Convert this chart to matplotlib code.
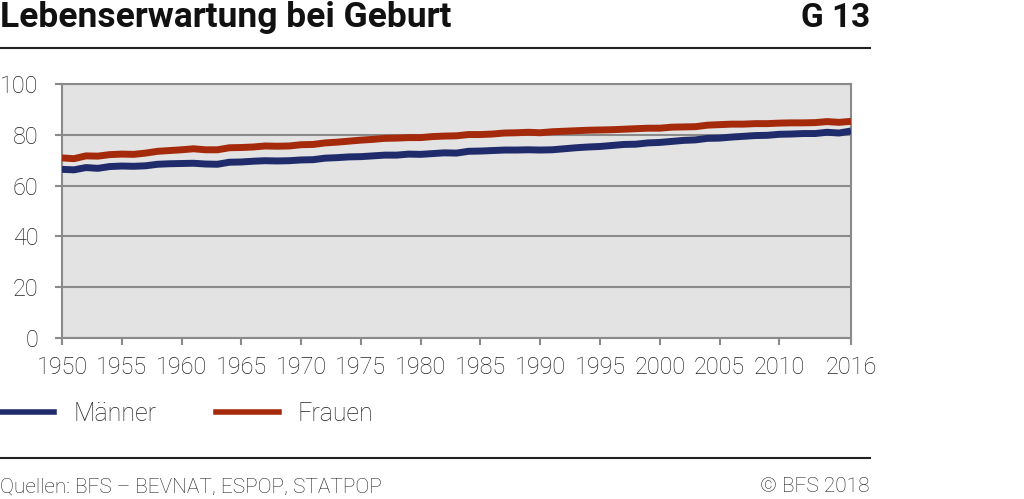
import numpy as np
import matplotlib
matplotlib.use("Agg")
import matplotlib.pyplot as plt
from matplotlib.lines import Line2D

plt.rcParams['font.family'] = ['Roboto', 'DejaVu Sans']

# data
years = list(range(1950, 2017))
maenner = [66.4, 66.2, 67.1, 66.8, 67.5, 67.7, 67.6, 67.8, 68.4, 68.6,
           68.7, 68.8, 68.5, 68.4, 69.2, 69.3, 69.6, 69.8, 69.7, 69.8,
           70.1, 70.2, 70.8, 71.0, 71.3, 71.4, 71.7, 72.0, 72.0, 72.4,
           72.3, 72.6, 72.9, 72.8, 73.5, 73.6, 73.8, 74.0, 74.0, 74.1,
           74.0, 74.1, 74.5, 74.9, 75.2, 75.4, 75.8, 76.2, 76.3, 76.8,
           77.0, 77.4, 77.8, 78.0, 78.6, 78.7, 79.1, 79.4, 79.7, 79.8,
           80.2, 80.3, 80.5, 80.5, 81.0, 80.7, 81.5]
frauen = [70.9, 70.6, 71.7, 71.6, 72.2, 72.4, 72.3, 72.8, 73.5, 73.8,
          74.1, 74.5, 74.1, 74.1, 74.9, 75.0, 75.2, 75.6, 75.5, 75.6,
          76.1, 76.2, 76.8, 77.1, 77.5, 77.9, 78.2, 78.6, 78.7, 78.9,
          78.9, 79.3, 79.5, 79.6, 80.1, 80.1, 80.3, 80.7, 80.8, 81.0,
          80.8, 81.2, 81.4, 81.6, 81.8, 81.9, 82.0, 82.2, 82.4, 82.6,
          82.6, 83.0, 83.1, 83.2, 83.8, 84.0, 84.2, 84.2, 84.4, 84.4,
          84.6, 84.7, 84.7, 84.8, 85.2, 84.9, 85.3]
x_ticks = [1950, 1955, 1960, 1965, 1970, 1975, 1980, 1985, 1990, 1995,
           2000, 2005, 2010, 2016]
y_ticks = [0, 20, 40, 60, 80, 100]

col_m = '#1f2b6b'
col_f = '#a52a0c'
grid_col = '#8a8a8a'

fig = plt.figure(figsize=(10.24, 4.99), dpi=100)
ax = fig.add_axes([62/1024, 1 - 338/499, (851 - 62)/1024, (338 - 84)/499])
ax.set_facecolor('#e3e3e3')

ax.plot(years, maenner, color=col_m, lw=5, solid_capstyle='butt', zorder=3)
ax.plot(years, frauen, color=col_f, lw=5, solid_capstyle='butt', zorder=3)

ax.set_xlim(1950, 2016)
ax.set_ylim(0, 100)
ax.set_xticks(x_ticks)
ax.set_yticks(y_ticks)
ax.grid(axis='y', color=grid_col, lw=1.5, zorder=1)
ax.set_axisbelow(True)
for s in ax.spines.values():
    s.set_color(grid_col)
    s.set_linewidth(1.5)
ax.tick_params(axis='both', colors=grid_col, width=1.5, length=5,
               labelcolor='#222222', labelsize=16.8)
ax.tick_params(axis='x', pad=8)
ax.tick_params(axis='y', pad=12)
for lab in ax.get_xticklabels() + ax.get_yticklabels():
    lab.set_fontweight('light')

# title, separators, footer
fig.text(0.0, 1 - 18/499, 'Lebenserwartung bei Geburt', fontsize=25.5,
         fontweight='bold', va='center', ha='left', color='#111111')
fig.text(870/1024, 1 - 18/499, 'G 13', fontsize=24, fontweight='bold',
         va='center', ha='right', color='#111111')
fig.add_artist(Line2D([0, 870/1024], [1 - 48/499, 1 - 48/499], color='#222222', lw=1.5))
fig.add_artist(Line2D([0, 870/1024], [1 - 458/499, 1 - 458/499], color='#222222', lw=1.5))
fig.text(0.0, 1 - 487/499, 'Quellen: BFS – BEVNAT, ESPOP, STATPOP', fontsize=15,
         fontweight='light', va='center', ha='left', color='#222222')
fig.text(870/1024, 1 - 487/499, '© BFS 2018', fontsize=15, fontweight='light',
         va='center', ha='right', color='#222222')

# legend
handles = [Line2D([], [], color=col_m, lw=4), Line2D([], [], color=col_f, lw=4)]
leg = fig.legend(handles, ['Männer', 'Frauen'], loc='center left',
                 bbox_to_anchor=(-0.008, 1 - 414/499), ncol=2, frameon=False,
                 handlelength=2.5, handletextpad=0.75, columnspacing=2.4,
                 borderaxespad=0, borderpad=0,
                 prop={'size': 18, 'weight': 'light'})
for t in leg.get_texts():
    t.set_color('#222222')

fig.savefig('out.png', dpi=100)
